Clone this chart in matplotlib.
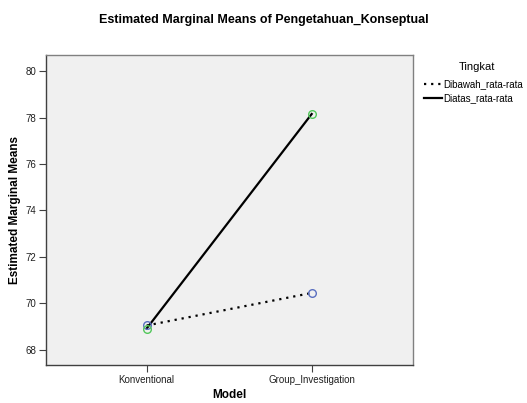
import matplotlib.pyplot as plt
from matplotlib.lines import Line2D

plt.rcParams['font.family'] = ['Liberation Sans', 'DejaVu Sans']

# data
models = ['Konventional', 'Group_Investigation']
dibawah = [69.05, 70.45]
diatas = [68.92, 78.15]
levels = ['Dibawah_rata-rata', 'Diatas_rata-rata']

fig = plt.figure(figsize=(5.27, 4.03), dpi=100)
ax = fig.add_axes([46 / 527, 1 - 365 / 403, 367 / 527, 310 / 403])
ax.set_facecolor('#f0f0f0')

xs = list(range(len(models)))
ax.plot(xs, dibawah, color='black', lw=1.6, ls=(0, (1, 2.2)), zorder=2)
ax.plot(xs, diatas, color='black', lw=1.6, ls='-', zorder=2)
ax.plot(xs, dibawah, ls='none', marker='o', ms=5.5, mfc='none',
        mec='#5a6fc0', mew=1, zorder=3)
ax.plot(xs, diatas, ls='none', marker='o', ms=5.5, mfc='none',
        mec='#52c75a', mew=1, zorder=3)

ax.set_xlim(-0.61, 1.614)
ax.set_ylim(67.35, 80.69)
ax.set_xticks(xs)
ax.set_xticklabels(models)
ax.set_yticks([68, 70, 72, 74, 76, 78, 80])
ax.tick_params(labelsize=7, length=5, pad=2, color='#404040', labelcolor='#202020')
for s in ax.spines.values():
    s.set_color('#808080')
    s.set_linewidth(1)
ax.spines['left'].set_color('#404040')
ax.spines['bottom'].set_color('#404040')

# x label placed by hand so it stays inside the picture
fig.text(229 / 527, 1 - 395 / 403, 'Model', ha='center', va='center',
         fontsize=8.5, fontweight='bold')
ax.set_ylabel('Estimated Marginal Means', fontsize=8.5, fontweight='bold', labelpad=3)

fig.text(0.5, 1 - 20 / 403, 'Estimated Marginal Means of Pengetahuan_Konseptual',
         ha='center', va='center', fontsize=9, fontweight='bold')

# legend
fig.text(477 / 527, 1 - 67 / 403, 'Tingkat', ha='center', va='center', fontsize=8)
handles = [Line2D([], [], color='black', lw=1.6, ls=(0, (1, 2.2))),
           Line2D([], [], color='black', lw=1.6, ls='-')]
leg = fig.legend(handles, levels, loc='upper left',
                 bbox_to_anchor=(424 / 527, 1 - 79 / 403), frameon=False,
                 fontsize=7, handlelength=1.8, borderpad=0,
                 handletextpad=0.2, labelspacing=0.45, borderaxespad=0)

fig.savefig('out.png', dpi=100)
